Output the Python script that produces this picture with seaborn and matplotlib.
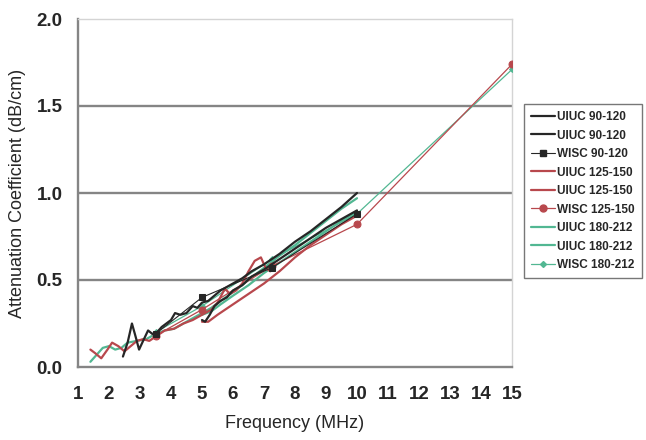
import matplotlib
matplotlib.use("Agg")
import matplotlib.pyplot as plt
import seaborn as sns

# Datos (frecuencia en MHz, atenuacion en dB/cm)

uiuc90_a_x = [2.45, 2.6, 2.74, 2.85, 2.97, 3.1, 3.26, 3.4, 3.55, 3.7, 3.85, 4.0, 4.13, 4.3, 4.5, 4.7,
              4.85, 5.0, 5.2, 5.4, 5.6, 5.8, 6.0, 6.3, 6.6, 7.0, 7.5, 8.0, 8.5, 9.0, 9.5, 10.0]
uiuc90_a_y = [0.06, 0.14, 0.25, 0.18, 0.10, 0.15, 0.21, 0.19, 0.20, 0.23, 0.25, 0.27, 0.31, 0.30, 0.31, 0.35,
              0.34, 0.37, 0.38, 0.41, 0.44, 0.46, 0.48, 0.51, 0.55, 0.59, 0.65, 0.72, 0.78, 0.85, 0.92, 1.00]

uiuc90_b_x = [5.0, 5.1, 5.25, 5.4, 5.6, 5.8, 6.0, 6.3, 6.6, 7.0, 7.5, 8.0, 8.5, 9.0, 9.5, 10.0]
uiuc90_b_y = [0.27, 0.26, 0.30, 0.35, 0.38, 0.40, 0.44, 0.47, 0.52, 0.56, 0.62, 0.68, 0.74, 0.80, 0.85, 0.90]

wisc90_x = [3.5, 5.0, 7.25, 10.0]
wisc90_y = [0.19, 0.40, 0.57, 0.88]

uiuc125_a_x = [1.4, 1.55, 1.75, 1.95, 2.1, 2.3, 2.5, 2.7, 2.9, 3.1, 3.3, 3.55, 3.8, 4.1, 4.4, 4.7,
               5.0, 5.3, 5.5, 5.74, 5.9, 6.1, 6.3, 6.5, 6.7, 6.9, 7.05, 7.2]
uiuc125_a_y = [0.10, 0.08, 0.05, 0.10, 0.14, 0.12, 0.09, 0.12, 0.15, 0.16, 0.15, 0.18, 0.21, 0.22, 0.25, 0.27,
               0.30, 0.33, 0.37, 0.45, 0.42, 0.44, 0.48, 0.55, 0.61, 0.63, 0.57, 0.55]

uiuc125_b_x = [5.0, 5.2, 5.5, 6.0, 6.5, 7.0, 7.5, 8.0, 8.5, 9.0, 9.5, 10.0]
uiuc125_b_y = [0.26, 0.26, 0.30, 0.36, 0.42, 0.48, 0.55, 0.63, 0.70, 0.76, 0.82, 0.87]

wisc125_x = [3.5, 5.0, 7.25, 10.0, 15.0]
wisc125_y = [0.18, 0.33, 0.58, 0.82, 1.74]

uiuc180_a_x = [1.4, 1.6, 1.8, 2.0, 2.2, 2.4, 2.6, 2.9, 3.2, 3.5, 3.8, 4.1, 4.4, 4.7, 5.0, 5.3,
               5.6, 6.0, 6.5, 7.0, 7.5, 8.0, 8.5, 9.0, 9.5, 10.0]
uiuc180_a_y = [0.03, 0.07, 0.11, 0.12, 0.10, 0.11, 0.14, 0.15, 0.16, 0.19, 0.21, 0.22, 0.25, 0.28, 0.31, 0.34,
               0.38, 0.43, 0.50, 0.57, 0.64, 0.70, 0.77, 0.84, 0.91, 0.97]

uiuc180_b_x = [5.0, 5.3, 5.6, 6.0, 6.5, 7.0, 7.5, 8.0, 8.5, 9.0, 9.5, 10.0]
uiuc180_b_y = [0.30, 0.32, 0.36, 0.41, 0.47, 0.54, 0.60, 0.66, 0.72, 0.78, 0.84, 0.89]

wisc180_x = [3.5, 5.0, 7.25, 10.0, 15.0]
wisc180_y = [0.20, 0.35, 0.62, 0.88, 1.71]

negro = "#262626"
rojo = "#b8484d"
verde = "#52b792"

sns.set_style("white")
plt.rcParams['font.family'] = ['Liberation Sans', 'DejaVu Sans']

fig = plt.figure(figsize=(6.46, 4.40), dpi=100)
ax = fig.add_axes([78 / 646, 73 / 440, (512 - 78) / 646, (367 - 19) / 440])

# Series (el orden define la leyenda)
series = [
    (uiuc90_a_x, uiuc90_a_y, negro, "UIUC 90-120", None, 1.6, 0),
    (uiuc90_b_x, uiuc90_b_y, negro, "UIUC 90-120", None, 1.6, 0),
    (wisc90_x, wisc90_y, negro, "WISC 90-120", "s", 0.8, 4),
    (uiuc125_a_x, uiuc125_a_y, rojo, "UIUC 125-150", None, 1.6, 0),
    (uiuc125_b_x, uiuc125_b_y, rojo, "UIUC 125-150", None, 1.6, 0),
    (wisc125_x, wisc125_y, rojo, "WISC 125-150", "o", 0.9, 5),
    (uiuc180_a_x, uiuc180_a_y, verde, "UIUC 180-212", None, 1.6, 0),
    (uiuc180_b_x, uiuc180_b_y, verde, "UIUC 180-212", None, 1.6, 0),
    (wisc180_x, wisc180_y, verde, "WISC 180-212", "D", 0.9, 3),
]
zorden = [5, 5, 5, 4, 4, 4, 3, 3, 3]

handles = []
for (xs, ys, col, lab, mk, lw, ms), z in zip(series, zorden):
    sns.lineplot(x=xs, y=ys, ax=ax, color=col, linewidth=lw, sort=False,
                 estimator=None, marker=mk, markersize=ms, markeredgecolor=col,
                 zorder=z, legend=False)
    handles.append(plt.Line2D([], [], color=col, linewidth=lw, marker=mk,
                              markersize=ms, markeredgecolor=col, label=lab))

ax.set_xlim(1, 15)
ax.set_ylim(0, 2.0)
ax.set_xticks(range(1, 16))
ax.set_yticks([0.0, 0.5, 1.0, 1.5, 2.0])
ax.set_yticklabels(["0.0", "0.5", "1.0", "1.5", "2.0"])

for v in [0.5, 1.0, 1.5]:
    ax.axhline(v, color="#858585", linewidth=1.7, zorder=1)

for s in ["left", "bottom"]:
    ax.spines[s].set_color("#858585")
    ax.spines[s].set_linewidth(1.7)
for s in ["top", "right"]:
    ax.spines[s].set_color("#d4d4d4")
    ax.spines[s].set_linewidth(1.0)

ax.tick_params(axis="both", direction="out", length=5, width=1.3, color="#858585",
               labelsize=13.5, pad=6)
ax.tick_params(axis="x", pad=9)
for t in ax.get_xticklabels() + ax.get_yticklabels():
    t.set_fontweight("bold")
ax.set_xlabel("Frequency (MHz)", fontsize=13, labelpad=8)
ax.set_ylabel("Attenuation Coefficient (dB/cm)", fontsize=13, labelpad=8)

leg = fig.legend(handles=handles, loc="upper left", bbox_to_anchor=(524 / 646, 1 - 104 / 440),
                 prop={"size": 8.5, "weight": "bold"}, frameon=True, fancybox=False,
                 handlelength=2.0, handletextpad=0.2, labelspacing=0.55, borderpad=0.6,
                 borderaxespad=0)
leg.get_frame().set_edgecolor("#555555")
leg.get_frame().set_linewidth(1.0)

fig.savefig("out.png", dpi=100)
